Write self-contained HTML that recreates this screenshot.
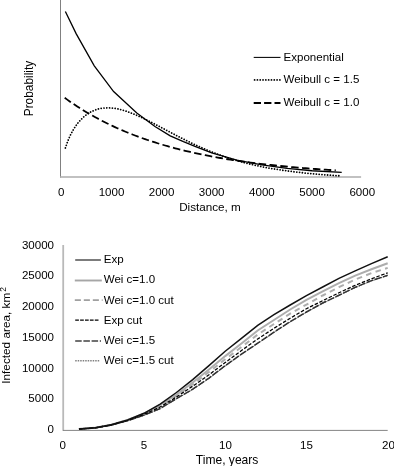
<!DOCTYPE html>
<html><head><meta charset="utf-8"><style>
html,body{margin:0;padding:0;background:#fff;}
svg{display:block;will-change:transform;transform:translateZ(0);}
text{font-family:"Liberation Sans",sans-serif;font-size:11.55px;fill:#000;}
</style></head><body>
<svg width="394" height="466" viewBox="0 0 394 466">
<rect width="394" height="466" fill="#fff"/>
<!-- top chart -->
<line x1="60.5" y1="0" x2="60.5" y2="177.6" stroke="#808080" stroke-width="1"/>
<line x1="60" y1="176.9" x2="361.1" y2="176.9" stroke="#adadad" stroke-width="1.5"/>
<path d="M64.71 97.82 L67.22 99.63 L69.73 101.39 L72.24 103.12 L74.75 104.80 L77.26 106.45 L79.77 108.05 L82.28 109.63 L84.79 111.16 L87.30 112.66 L89.81 114.13 L92.32 115.56 L94.83 116.96 L97.34 118.33 L99.85 119.66 L102.36 120.97 L104.87 122.25 L107.38 123.49 L109.89 124.71 L112.40 125.90 L114.91 127.07 L117.42 128.20 L119.93 129.32 L122.44 130.40 L124.95 131.46 L127.46 132.50 L129.97 133.51 L132.48 134.50 L134.99 135.47 L137.50 136.41 L140.01 137.34 L142.52 138.24 L145.03 139.12 L147.54 139.98 L150.05 140.83 L152.56 141.65 L155.07 142.45 L157.58 143.24 L160.09 144.01 L162.60 144.76 L165.11 145.49 L167.62 146.21 L170.13 146.91 L172.64 147.59 L175.15 148.26 L177.66 148.91 L180.17 149.55 L182.68 150.17 L185.19 150.78 L187.70 151.38 L190.21 151.96 L192.72 152.53 L195.23 153.08 L197.74 153.63 L200.25 154.16 L202.76 154.67 L205.27 155.18 L207.78 155.68 L210.29 156.16 L212.80 156.63 L215.31 157.09 L217.82 157.55 L220.33 157.99 L222.84 158.42 L225.35 158.84 L227.86 159.25 L230.37 159.65 L232.88 160.04 L235.39 160.43 L237.90 160.80 L240.41 161.17 L242.92 161.53 L245.43 161.88 L247.94 162.22 L250.45 162.55 L252.96 162.88 L255.47 163.20 L257.98 163.51 L260.49 163.82 L263.00 164.11 L265.51 164.40 L268.02 164.69 L270.53 164.97 L273.04 165.24 L275.55 165.50 L278.06 165.76 L280.57 166.02 L283.08 166.26 L285.59 166.50 L288.10 166.74 L290.61 166.97 L293.12 167.20 L295.63 167.42 L298.14 167.63 L300.65 167.84 L303.16 168.05 L305.67 168.25 L308.18 168.45 L310.69 168.64 L313.20 168.83 L315.71 169.01 L318.22 169.19 L320.73 169.36 L323.24 169.53 L325.75 169.70 L328.26 169.87 L330.77 170.02 L333.28 170.18 L335.79 170.33" fill="none" stroke="#000" stroke-width="1.8" stroke-dasharray="7.5 3.4"/>
<path d="M65.37 147.97 L67.88 140.79 L70.39 135.10 L72.90 130.40 L75.41 126.42 L77.92 123.02 L80.43 120.10 L82.94 117.60 L85.45 115.46 L87.96 113.65 L90.47 112.13 L92.98 110.88 L95.49 109.87 L98.00 109.09 L100.51 108.51 L103.02 108.11 L105.53 107.90 L108.04 107.84 L110.55 107.94 L113.06 108.17 L115.57 108.53 L118.08 109.00 L120.59 109.58 L123.10 110.25 L125.61 111.02 L128.12 111.86 L130.63 112.78 L133.14 113.77 L135.65 114.81 L138.16 115.91 L140.67 117.05 L143.18 118.23 L145.69 119.45 L148.20 120.69 L150.71 121.96 L153.22 123.26 L155.73 124.56 L158.24 125.88 L160.75 127.21 L163.26 128.54 L165.77 129.88 L168.28 131.21 L170.79 132.54 L173.30 133.86 L175.81 135.17 L178.32 136.47 L180.83 137.76 L183.34 139.03 L185.85 140.28 L188.36 141.52 L190.87 142.73 L193.38 143.93 L195.89 145.10 L198.40 146.25 L200.91 147.37 L203.42 148.47 L205.93 149.54 L208.44 150.59 L210.95 151.61 L213.46 152.61 L215.97 153.58 L218.48 154.52 L220.99 155.43 L223.50 156.32 L226.01 157.18 L228.52 158.01 L231.03 158.82 L233.54 159.60 L236.05 160.36 L238.56 161.09 L241.07 161.79 L243.58 162.47 L246.09 163.13 L248.60 163.76 L251.11 164.37 L253.62 164.96 L256.13 165.52 L258.64 166.06 L261.15 166.58 L263.66 167.08 L266.17 167.56 L268.68 168.01 L271.19 168.45 L273.70 168.88 L276.21 169.28 L278.72 169.66 L281.23 170.03 L283.74 170.39 L286.25 170.72 L288.76 171.07 L291.27 171.41 L293.78 171.74 L296.29 172.05 L298.80 172.35 L301.31 172.64 L303.82 172.92 L306.33 173.18 L308.84 173.43 L311.35 173.67 L313.86 173.91 L316.37 174.13 L318.88 174.34 L321.39 174.54 L323.90 174.74 L326.41 174.92 L328.92 175.10 L331.43 175.27 L333.94 175.44 L336.45 175.60 L338.96 175.75" fill="none" stroke="#000" stroke-width="1.8" stroke-dasharray="0.01 2.8" stroke-linecap="round"/>
<path d="M65.37 11.45 L76.11 33.65 L94.28 65.85 L113.61 91.55 L136.80 113.10 L154.97 126.45 L170.23 135.85 L183.44 141.65 L194.98 146.35 L211.70 152.95 L236.80 160.15 L261.90 164.95 L287.00 168.35 L312.10 170.75 L341.72 172.40" fill="none" stroke="#000" stroke-width="1.3"/>
<g text-anchor="middle" style="font-size:11.85px">
<text x="61.1" y="195.7">0</text>
<text x="111.5" y="195.7">1000</text>
<text x="161.6" y="195.7">2000</text>
<text x="211.7" y="195.7">3000</text>
<text x="261.9" y="195.7">4000</text>
<text x="312.1" y="195.7">5000</text>
<text x="362.3" y="195.7">6000</text>
<text x="210" y="211.3" style="font-size:11.7px">Distance, m</text>
</g>
<text transform="translate(32.6 88.5) rotate(-90)" text-anchor="middle" style="font-size:11.9px">Probability</text>
<line x1="253.7" y1="57.4" x2="280.5" y2="57.4" stroke="#000" stroke-width="1.05"/>
<line x1="254.6" y1="79.9" x2="279.9" y2="79.9" stroke="#000" stroke-width="1.8" stroke-dasharray="0.01 2.8" stroke-linecap="round"/>
<line x1="253.7" y1="103" x2="280.5" y2="103" stroke="#000" stroke-width="1.9" stroke-dasharray="7.3 3.1"/>
<text x="283.5" y="60.8">Exponential</text>
<text x="283.5" y="83.3">Weibull c = 1.5</text>
<text x="283.5" y="106.4">Weibull c = 1.0</text>

<!-- bottom chart -->
<line x1="63.2" y1="245" x2="63.2" y2="430.9" stroke="#b9b9b9" stroke-width="1.8"/>
<line x1="63" y1="430.4" x2="387.7" y2="430.4" stroke="#858585" stroke-width="1"/>
<path d="M78.95 429.10 L95.20 427.80 L111.45 424.80 L127.70 420.10 L143.95 413.90 L160.20 405.90 L176.45 395.80 L192.70 384.30 L208.95 372.00 L225.20 359.30 L241.45 347.00 L257.70 334.60 L273.95 324.00 L290.20 313.60 L306.45 304.60 L322.70 295.50 L338.95 287.20 L355.20 279.60 L371.45 273.10 L387.70 267.90" fill="none" stroke="#adadad" stroke-width="2" stroke-dasharray="5.6 4.4"/>
<path d="M78.95 429.10 L95.20 427.80 L111.45 424.75 L127.70 420.00 L143.95 413.60 L160.20 405.00 L176.45 394.80 L192.70 382.50 L208.95 369.50 L225.20 356.10 L241.45 343.50 L257.70 330.50 L273.95 320.00 L290.20 309.50 L306.45 299.90 L322.70 291.30 L338.95 283.15 L355.20 275.60 L371.45 269.20 L387.70 263.30" fill="none" stroke="#adadad" stroke-width="2"/>
<path d="M78.95 429.10 L95.20 427.80 L111.45 424.95 L127.70 420.60 L143.95 415.10 L160.20 408.50 L176.45 398.60 L192.70 389.20 L208.95 378.15 L225.20 365.70 L241.45 354.10 L257.70 343.20 L273.95 332.20 L290.20 321.60 L306.45 312.00 L322.70 303.00 L338.95 295.20 L355.20 287.30 L371.45 280.60 L387.70 275.30" fill="none" stroke="#2e2e2e" stroke-width="1.5" stroke-dasharray="7 1.6"/>
<path d="M78.95 429.45 L95.20 428.15 L111.45 425.30 L127.70 420.95 L143.95 415.45 L160.20 408.85 L176.45 398.95 L192.70 389.55 L208.95 378.50 L225.20 366.05 L241.45 354.45 L257.70 343.55 L273.95 332.55 L290.20 321.95 L306.45 312.35 L322.70 303.35 L338.95 295.55 L355.20 287.65 L371.45 280.95 L387.70 275.65" fill="none" stroke="#3a3a3a" stroke-width="1" stroke-dasharray="1 0.8"/>
<path d="M78.95 429.10 L95.20 427.80 L111.45 424.85 L127.70 420.30 L143.95 414.40 L160.20 407.00 L176.45 397.00 L192.70 386.20 L208.95 374.80 L225.20 362.50 L241.45 350.60 L257.70 339.00 L273.95 328.30 L290.20 318.20 L306.45 308.70 L322.70 300.70 L338.95 292.80 L355.20 285.30 L371.45 278.80 L387.70 272.80" fill="none" stroke="#000" stroke-width="1.25" stroke-dasharray="3.5 1.7"/>
<path d="M78.95 429.10 L95.20 427.80 L111.45 424.70 L127.70 419.90 L143.95 413.30 L160.20 404.10 L176.45 392.50 L192.70 379.60 L208.95 365.60 L225.20 351.25 L241.45 338.40 L257.70 325.40 L273.95 314.70 L290.20 305.00 L306.45 295.70 L322.70 287.00 L338.95 278.30 L355.20 270.90 L371.45 263.66 L387.70 256.70" fill="none" stroke="#111" stroke-width="1.5"/>
<g text-anchor="end">
<text x="54" y="432.9">0</text>
<text x="54" y="402.2">5000</text>
<text x="54" y="371.5">10000</text>
<text x="54" y="340.8">15000</text>
<text x="54" y="310.1">20000</text>
<text x="54" y="279.4">25000</text>
<text x="54" y="248.7">30000</text>
</g>
<g text-anchor="middle">
<text x="62.7" y="449.4">0</text>
<text x="144" y="449.4">5</text>
<text x="225.4" y="449.4">10</text>
<text x="306.5" y="449.4">15</text>
<text x="388.4" y="449.4">20</text>
<text x="227.1" y="463.6" style="font-size:12.05px">Time, years</text>
</g>
<text transform="translate(10.0 383.8) rotate(-90)" text-anchor="start" style="font-size:11.8px">Infected area, km<tspan style="font-size:8.4px" dy="-4.2" dx="0.9">2</tspan></text>
<line x1="75.2" y1="260.0" x2="100.9" y2="260.0" stroke="#505050" stroke-width="1.5"/>
<line x1="74.8" y1="280.5" x2="101.8" y2="280.5" stroke="#a6a6a6" stroke-width="1.9"/>
<line x1="74.8" y1="300.2" x2="102.6" y2="300.2" stroke="#a0a0a0" stroke-width="1.8" stroke-dasharray="6.1 2.9"/>
<line x1="75.2" y1="320.1" x2="99.6" y2="320.1" stroke="#000" stroke-width="1.05" stroke-dasharray="3.7 1.2"/>
<line x1="75.2" y1="341.0" x2="101.0" y2="341.0" stroke="#707070" stroke-width="1.8" stroke-dasharray="6.5 1.7"/>
<line x1="75.2" y1="360.7" x2="100.0" y2="360.7" stroke="#808080" stroke-width="1.5" stroke-dasharray="1.5 1"/>
<text x="103.7" y="263.10">Exp</text>
<text x="103.7" y="283.30">Wei c=1.0</text>
<text x="103.7" y="303.50">Wei c=1.0 cut</text>
<text x="103.7" y="323.70">Exp cut</text>
<text x="103.7" y="343.90">Wei c=1.5</text>
<text x="103.7" y="364.10">Wei c=1.5 cut</text>
</svg>
</body></html>
